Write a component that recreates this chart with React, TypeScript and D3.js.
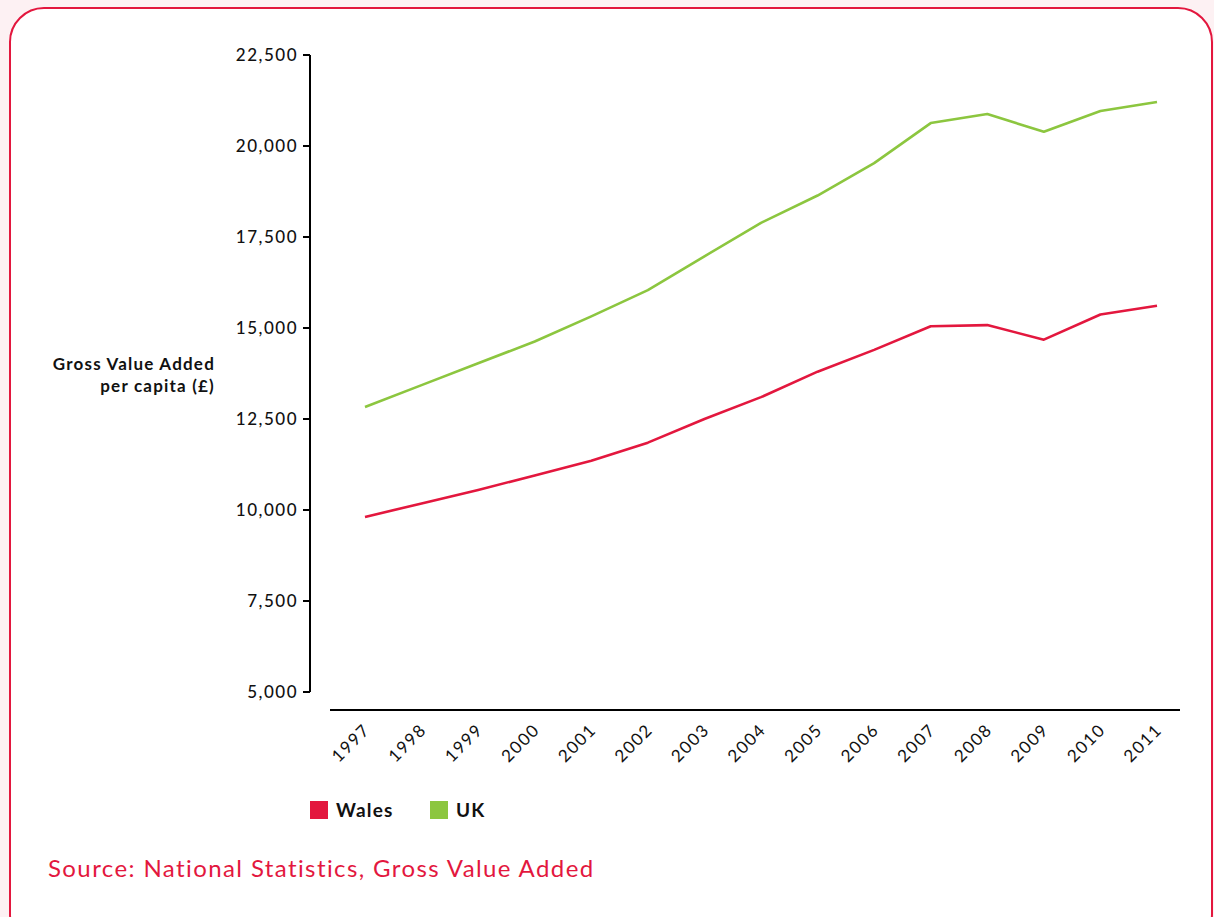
import * as d3 from 'd3'

const years = ['1997', '1998', '1999', '2000', '2001', '2002', '2003', '2004', '2005', '2006', '2007', '2008', '2009', '2010', '2011']
const walesValues = [9810, 10180, 10550, 10950, 11350, 11850, 12500, 13100, 13800, 14400, 15050, 15080, 14680, 15370, 15610]
const ukValues = [12830, 13430, 14030, 14630, 15320, 16040, 16970, 17890, 18640, 19530, 20630, 20880, 20390, 20960, 21210]
const yTicks = [5000, 7500, 10000, 12500, 15000, 17500, 20000, 22500]
const seriesNames = ['Wales', 'UK']

const RED = '#e3173e'
const GREEN = '#8cc63f'
const FONT = 'Lato, "Noto Sans", sans-serif'

export default function App() {
  const width = 1214
  const height = 917

  const x = d3.scalePoint<string>().domain(years).range([365, 1157])
  const y = d3.scaleLinear().domain([5000, 22500]).range([692, 55])

  const line = d3.line<number>()
    .x((_, i) => x(years[i]) ?? 0)
    .y(d => y(d))

  const fmt = d3.format(',')
  const series = [
    { name: seriesNames[0], values: walesValues, color: RED },
    { name: seriesNames[1], values: ukValues, color: GREEN },
  ]

  return (
    <svg width={width} height={height} style={{ position: 'absolute', left: 0, top: 0 }}>
      <rect x={0} y={0} width={width} height={height} fill="#fdf1f3" />
      <rect x={10} y={8} width={1202} height={940} rx={34} ry={34} fill="#fff" stroke={RED} strokeWidth={2} />

      {/* y axis */}
      <line x1={310} x2={310} y1={y(22500)} y2={y(5000)} stroke="#000" strokeWidth={2} />
      {yTicks.map(t => (
        <g key={t} transform={`translate(0, ${y(t)})`}>
          <line x1={303} x2={310} y1={0} y2={0} stroke="#000" strokeWidth={2} />
          <text x={298} y={0} dy="0.36em" textAnchor="end" fontFamily={FONT} fontSize={17} fontWeight={500} letterSpacing={1.5} fill="#111">
            {fmt(t)}
          </text>
        </g>
      ))}

      {/* y label */}
      <text textAnchor="end" fontFamily={FONT} fontSize={17} fontWeight={700} fill="#111" letterSpacing={1.2}>
        <tspan x={215} y={370}>Gross Value Added</tspan>
        <tspan x={215} y={392}>per capita (£)</tspan>
      </text>

      {/* x axis */}
      <line x1={330} x2={1180} y1={710} y2={710} stroke="#000" strokeWidth={2} />
      {years.map(yr => (
        <text key={yr} transform={`translate(${(x(yr) ?? 0) + 6}, 731) rotate(-45)`} textAnchor="end" fontFamily={FONT} fontSize={17} letterSpacing={1.5} fill="#111">
          {yr}
        </text>
      ))}

      {/* lines */}
      {series.map(s => (
        <path key={s.name} d={line(s.values) ?? ''} fill="none" stroke={s.color} strokeWidth={2.6} strokeLinejoin="round" />
      ))}

      {/* legend */}
      {series.map((s, i) => (
        <g key={s.name} transform={`translate(${310 + i * 120}, 801)`}>
          <rect x={0} y={0} width={18} height={18} fill={s.color} />
          <text x={26} y={16} fontFamily={FONT} fontSize={19} fontWeight={700} fill="#111" letterSpacing={1.2}>{s.name}</text>
        </g>
      ))}

      <text x={48} y={877} fontFamily={FONT} fontSize={24} fill={RED} letterSpacing={1.4}>
        Source: National Statistics, Gross Value Added
      </text>
    </svg>
  )
}
